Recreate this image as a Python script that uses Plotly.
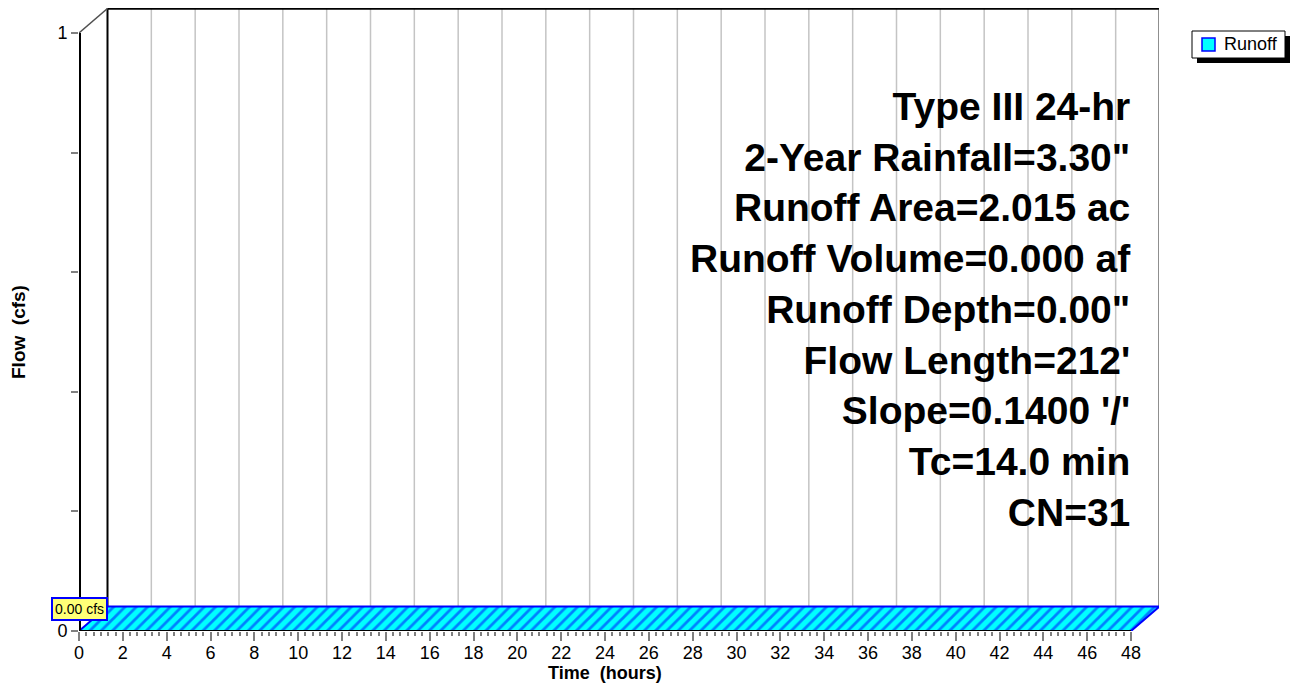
import plotly.graph_objects as go

# ---------------- data ----------------
time_hours = [0, 6, 12, 18, 24, 30, 36, 42, 48]
flow_cfs = [0.00, 0.00, 0.00, 0.00, 0.00, 0.00, 0.00, 0.00, 0.00]
x_tickvals = [0, 2, 4, 6, 8, 10, 12, 14, 16, 18, 20, 22, 24, 26, 28, 30, 32, 34, 36, 38, 40, 42, 44, 46, 48]
y_tickvals = [0, 0.2, 0.4, 0.6, 0.8, 1]
y_ticktext = ["0", "", "", "", "", "1"]
series_name = "Runoff"
peak_label = "0.00 cfs"
info_lines = [
    "Type III 24-hr",
    '2-Year Rainfall=3.30"',
    "Runoff Area=2.015 ac",
    "Runoff Volume=0.000 af",
    'Runoff Depth=0.00"',
    "Flow Length=212'",
    "Slope=0.1400 '/'",
    "Tc=14.0 min",
    "CN=31",
]
x_title = "Time\u00a0 (hours)"
y_title = "Flow\u00a0 (cfs)"

# ---------------- geometry ----------------
W, H = 1294, 683
L, R, T, B = 79, 135, 8, 52
PW, PH = W - L - R, H - T - B
FRONT_W_PX, FRONT_H_PX = 1052, 598
X_MAX, Y_MAX = x_tickvals[-1], y_tickvals[-1]
x_hi = X_MAX * PW / FRONT_W_PX
y_hi = Y_MAX * PH / FRONT_H_PX
DEPTH_X_PX, DEPTH_Y_PX = 28.5, 24.5
dxh = DEPTH_X_PX * X_MAX / FRONT_W_PX
dyv = DEPTH_Y_PX * Y_MAX / FRONT_H_PX


def px_x(px):
    return (px - L) / PW


def px_y(py):
    return (H - B - py) / PH


FONT = "Liberation Sans, Arial, sans-serif"
CYAN = "#00ffff"
BLUE = "#0000ff"

fig = go.Figure()

# 3D ribbon for the hydrograph (front edge = data, back edge = depth offset)
rib_x = list(time_hours) + [t + dxh for t in reversed(time_hours)] + [time_hours[0]]
rib_y = list(flow_cfs) + [q + dyv for q in reversed(flow_cfs)] + [flow_cfs[0]]
fig.add_trace(go.Scatter(
    x=rib_x, y=rib_y, mode="lines", fill="toself", name=series_name,
    fillcolor=CYAN,
    fillpattern=dict(shape="/", fgcolor=BLUE, bgcolor=CYAN, size=8, solidity=0.35),
    line=dict(color=BLUE, width=2), hoverinfo="skip", showlegend=False,
))

shapes = []
# back wall vertical grid lines
for t in x_tickvals[1:-1]:
    shapes.append(dict(type="line", xref="x", yref="y", x0=t + dxh, x1=t + dxh,
                       y0=dyv, y1=Y_MAX + dyv, line=dict(color="#c4c4c4", width=1.5), layer="below"))
# back wall left edge
shapes.append(dict(type="line", xref="x", yref="y", x0=dxh, x1=dxh, y0=dyv, y1=Y_MAX + dyv,
                   line=dict(color="#000000", width=2), layer="below"))
# back wall top edge
shapes.append(dict(type="line", xref="x", yref="y", x0=dxh, x1=X_MAX + dxh, y0=Y_MAX + dyv, y1=Y_MAX + dyv,
                   line=dict(color="#000000", width=2.5), layer="below"))
# back wall right edge
shapes.append(dict(type="line", xref="x", yref="y", x0=X_MAX + dxh, x1=X_MAX + dxh, y0=dyv, y1=Y_MAX + dyv,
                   line=dict(color="#202020", width=2), layer="below"))
# top-left depth connector
shapes.append(dict(type="line", xref="x", yref="y", x0=0, x1=dxh, y0=Y_MAX, y1=Y_MAX + dyv,
                   line=dict(color="#505050", width=1.5), layer="above"))
# front y axis line (thick)
shapes.append(dict(type="line", xref="x", yref="y", x0=0, x1=0, y0=0, y1=Y_MAX,
                   line=dict(color="#000000", width=4), layer="above"))
# bottom axis line
shapes.append(dict(type="line", xref="x", yref="y", x0=0, x1=X_MAX, y0=0, y1=0,
                   line=dict(color="#000000", width=2), layer="above"))

# legend (manual, with drop shadow)
lg_x0, lg_x1, lg_y0, lg_y1 = 1192, 1285, 31, 58
SH = 5
shapes.append(dict(type="rect", xref="paper", yref="paper",
                   x0=px_x(lg_x0 + SH), x1=px_x(lg_x1 + SH), y0=px_y(lg_y1 + SH), y1=px_y(lg_y0 + SH),
                   fillcolor="#000000", line=dict(width=0), layer="above"))
shapes.append(dict(type="rect", xref="paper", yref="paper",
                   x0=px_x(lg_x0), x1=px_x(lg_x1), y0=px_y(lg_y1), y1=px_y(lg_y0),
                   fillcolor="#ffffff", line=dict(color="#000000", width=1), layer="above"))
shapes.append(dict(type="rect", xref="paper", yref="paper",
                   x0=px_x(1202), x1=px_x(1215), y0=px_y(51), y1=px_y(38),
                   fillcolor=CYAN, line=dict(color=BLUE, width=1.5), layer="above"))

annotations = [
    dict(xref="paper", yref="paper", x=px_x(1222), y=px_y(44.5), xanchor="left", yanchor="middle",
         text=series_name, showarrow=False, font=dict(family=FONT, size=18, color="#000000")),
    dict(xref="paper", yref="paper", x=px_x(1133), y=px_y(310), xanchor="right", yanchor="middle",
         align="right", text="<br>".join(info_lines), showarrow=False,
         font=dict(family=FONT, size=39, color="#000000", weight="bold")),
    dict(xref="x", yref="y", x=time_hours[flow_cfs.index(max(flow_cfs))], y=max(flow_cfs) + dyv * 0.9,
         xanchor="center", yanchor="middle", text=peak_label, showarrow=False,
         bgcolor="#ffff77", bordercolor=BLUE, borderwidth=2, borderpad=2,
         font=dict(family=FONT, size=14, color="#000000")),
    dict(xref="x", yref="paper", x=X_MAX / 2, y=px_y(673), xanchor="center", yanchor="middle",
         text=x_title, showarrow=False, font=dict(family=FONT, size=18, color="#000000", weight="bold")),
    dict(xref="paper", yref="y", x=px_x(18), y=Y_MAX / 2, xanchor="center", yanchor="middle",
         text=y_title, textangle=-90, showarrow=False,
         font=dict(family=FONT, size=19, color="#000000", weight="bold")),
]

minor_vals = [i / 3 for i in range(0, 3 * X_MAX + 1)]

fig.update_layout(
    width=W, height=H,
    margin=dict(l=L, r=R, t=T, b=B, pad=0),
    paper_bgcolor="#ffffff", plot_bgcolor="#ffffff",
    showlegend=False,
    shapes=shapes, annotations=annotations,
    xaxis=dict(range=[0, x_hi], tickvals=x_tickvals, ticks="outside", ticklen=9, tickwidth=1.5,
               tickcolor="#808080", showgrid=False, zeroline=False, showline=False,
               ticklabelstandoff=-4,
               tickfont=dict(family=FONT, size=18, color="#000000"),
               minor=dict(tickvals=minor_vals, ticks="outside", ticklen=4, tickwidth=1.5,
                          tickcolor="#808080", showgrid=False),
               fixedrange=True),
    yaxis=dict(range=[0, y_hi], tickvals=y_tickvals, ticktext=y_ticktext, ticks="outside", ticklen=7,
               tickwidth=1.5, tickcolor="#808080", showgrid=False, zeroline=False, showline=False,
               tickfont=dict(family=FONT, size=18, color="#000000"), fixedrange=True),
)

fig.write_html("out.html", config={"displayModeBar": False},
               post_script="document.body.style.margin='0px';")
